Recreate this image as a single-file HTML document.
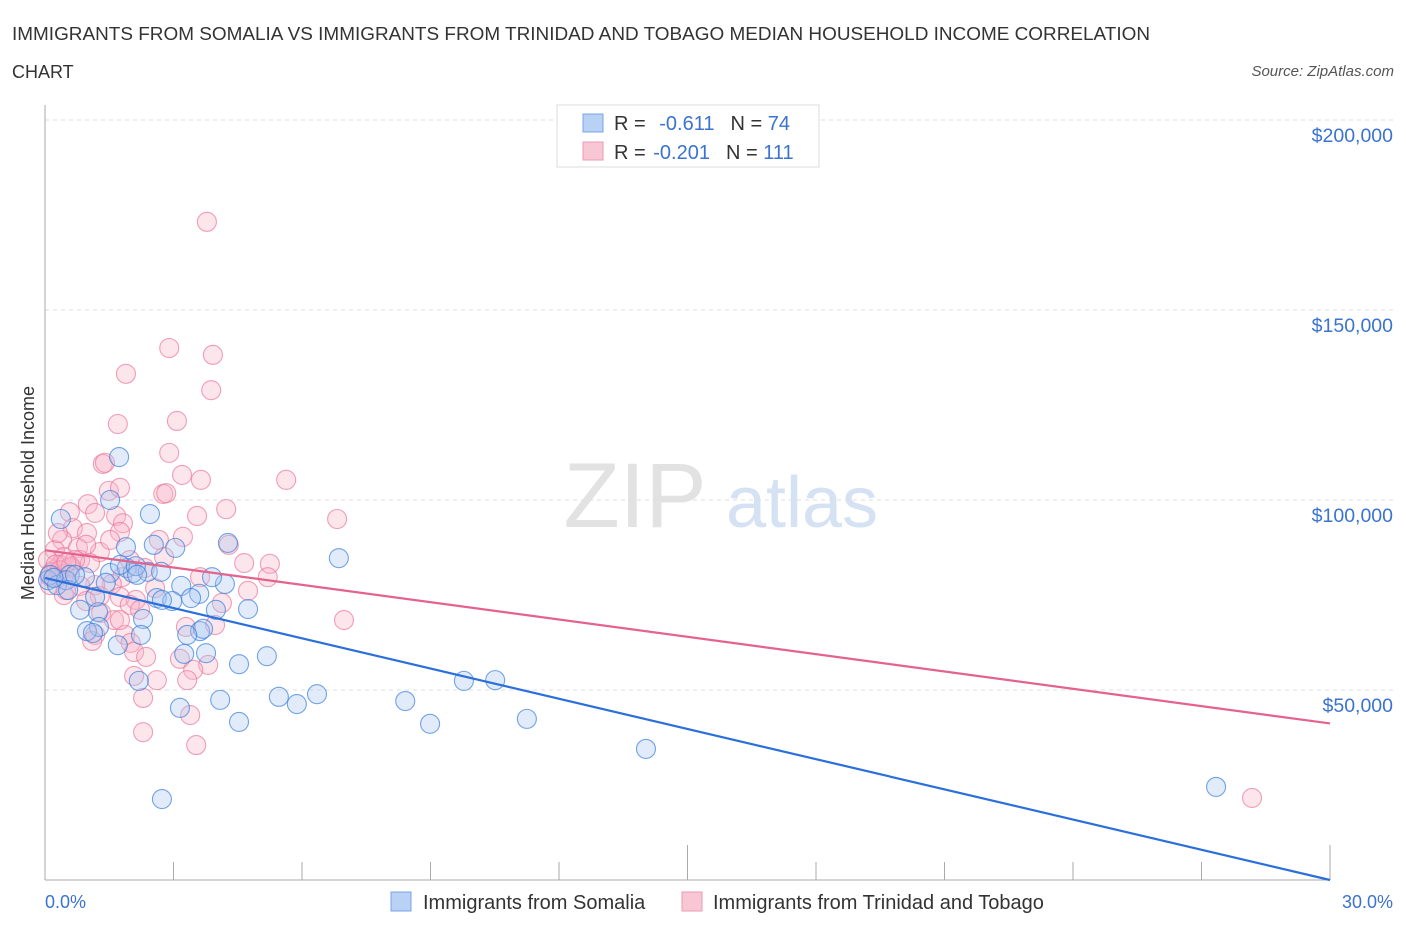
<!DOCTYPE html>
<html><head><meta charset="utf-8"><style>
body{margin:0;background:#fff;font-family:"Liberation Sans",sans-serif}
svg text{font-family:"Liberation Sans",sans-serif}
</style></head><body>
<svg id="chart" width="1406" height="930" xmlns="http://www.w3.org/2000/svg">
<text x="12" y="40" font-size="18" fill="#333" textLength="1138" lengthAdjust="spacingAndGlyphs">IMMIGRANTS FROM SOMALIA VS IMMIGRANTS FROM TRINIDAD AND TOBAGO MEDIAN HOUSEHOLD INCOME CORRELATION</text>
<text x="12" y="78" font-size="18" fill="#333">CHART</text>
<text x="1394" y="76" font-size="15" fill="#555" text-anchor="end" font-style="italic">Source: ZipAtlas.com</text>
<g>
<text x="635" y="527" font-size="92" fill="#e2e2e2" text-anchor="middle" font-family="Liberation Serif">ZIP</text>
<text x="802" y="527" font-size="72" fill="#d5e2f3" text-anchor="middle">atlas</text>
</g>
<g id="grid"></g>
<g id="axes"></g>
<g id="points"></g>
<g id="lines"></g>
<text transform="translate(34,493) rotate(-90)" font-size="18" fill="#333" text-anchor="middle">Median Household Income</text>
<text x="45" y="908" font-size="18" fill="#3a73d0">0.0%</text>
<text x="1393" y="908" font-size="18" fill="#3a73d0" text-anchor="end">30.0%</text>
<g>
<rect x="557" y="105" width="262" height="62" fill="#fff" stroke="#ddd"/>
<rect x="583" y="114" width="20" height="18" fill="#b9d1f5" stroke="#7aa4e6"/>
<rect x="583" y="142" width="20" height="18" fill="#f8c6d4" stroke="#eb9ab2"/>
<text x="614" y="130" font-size="20" fill="#333">R = <tspan fill="#3a73d0" dx="8">-0.611</tspan><tspan dx="16">N = </tspan><tspan fill="#3a73d0">74</tspan></text>
<text x="614" y="159" font-size="20" fill="#333">R = <tspan fill="#3a73d0" dx="2">-0.201</tspan><tspan dx="16">N = </tspan><tspan fill="#3a73d0">111</tspan></text>
</g>
<g>
<rect x="391" y="892" width="20" height="19" fill="#b9d1f5" stroke="#7aa4e6"/>
<text x="423" y="909" font-size="20" fill="#333">Immigrants from Somalia</text>
<rect x="682" y="892" width="20" height="19" fill="#f8c6d4" stroke="#eb9ab2"/>
<text x="713" y="909" font-size="20" fill="#333">Immigrants from Trinidad and Tobago</text>
</g>
</svg>
<script>
const yTicks=[50000,100000,150000,200000];
const yTickLabels=["$50,000","$100,000","$150,000","$200,000"];
const xTicks=[0,3,6,9,12,15,18,21,24,27,30];
const somaliaX=[2.73,0.07,0.37,1.73,1.52,2.45,1.89,2.54,3.04,4.27,6.86,0.12,0.28,0.58,0.49,0.93,1.52,1.91,2.05,2.40,1.75,2.12,2.71,3.18,3.60,4.20,3.90,2.61,2.97,3.41,0.82,1.24,3.99,4.74,2.29,1.26,0.98,1.12,3.62,3.69,2.24,3.32,1.70,3.25,3.76,4.53,5.18,2.19,3.15,4.09,4.53,5.46,5.88,6.35,8.41,8.99,9.78,10.51,11.25,14.03,27.34,0.54,1.17,0.70,1.42,2.73,2.15,0.2];
const somaliaY=[21.3,78.9,95.0,111.3,100.0,96.3,87.6,88.2,87.4,88.7,84.7,80.3,77.6,80.3,78.9,79.7,80.8,82.1,80.8,81.1,82.9,82.6,81.1,77.4,75.3,77.9,79.7,74.2,73.4,74.2,71.1,70.5,71.1,71.3,68.7,66.6,65.5,65.0,65.5,66.1,64.5,64.5,61.8,59.5,59.7,56.8,58.9,52.4,45.3,47.4,41.6,48.2,46.3,48.9,47.1,41.1,52.4,52.6,42.4,34.5,24.5,76.3,74.5,80.3,78.2,73.7,80.3,79.5];
const trinidadX=[3.78,2.90,3.92,1.89,3.88,3.08,1.70,2.90,1.35,1.40,3.20,3.64,5.63,1.49,1.75,2.76,2.83,1.00,4.23,3.55,6.82,0.58,1.17,1.66,1.82,0.65,0.98,1.75,2.66,3.22,4.29,0.40,0.23,0.77,1.28,0.44,0.82,0.21,0.35,0.58,1.05,2.78,4.65,5.25,5.20,3.62,2.33,1.80,1.56,1.17,0.82,2.57,4.74,0.44,1.28,1.75,2.12,4.13,1.98,0.96,1.31,1.61,6.98,3.29,3.97,1.17,1.87,1.10,2.00,2.08,2.36,3.15,3.81,3.46,2.08,2.61,3.32,2.29,3.39,2.29,3.53,28.18,0.07,0.30,0.12,0.49,0.70,0.96,0.30,1.52,1.98,1.75,2.22,0.15,0.25,0.45,0.6,0.1,0.35,0.5];
const trinidadY=[173.2,140.0,138.2,133.2,128.9,120.8,120.0,112.4,109.5,109.8,106.6,105.3,105.3,102.4,103.2,101.6,101.8,98.9,97.6,95.8,95.0,96.8,96.6,95.8,93.9,92.6,91.3,91.6,89.5,90.3,88.2,89.5,86.8,87.4,86.3,85.0,84.2,81.6,82.9,82.1,83.4,85.0,83.4,83.2,79.7,79.7,82.1,79.7,77.9,77.6,77.4,76.8,76.1,75.0,74.7,74.5,73.7,72.9,72.4,73.4,70.3,68.4,68.4,66.6,67.1,64.5,64.5,62.9,62.4,60.0,58.7,58.2,56.6,55.3,53.7,52.6,52.6,47.9,43.4,38.9,35.5,21.6,84.2,79.7,77.6,76.3,84.2,88.2,91.3,89.5,84.2,68.4,71.1,81.0,83.0,80.5,82.5,80.0,81.5,83.5];
const trendIntercept=[79.5,86.8];
const trendSlope=[-2.65,-1.52];
const NS="http://www.w3.org/2000/svg";
const X0=45,X1=1330,YB=880;
const sx=v=>X0+(X1-X0)*v/30;
const sy=v=>YB-v*0.0038;
function mk(tag,attrs,parent){const e=document.createElementNS(NS,tag);for(const k in attrs)e.setAttribute(k,attrs[k]);parent.appendChild(e);return e;}
const grid=document.getElementById('grid'),axes=document.getElementById('axes'),pts=document.getElementById('points'),lines=document.getElementById('lines');
yTicks.forEach((t,i)=>{
 const l=mk('line',{x1:X0,x2:1395,y1:sy(t),y2:sy(t),stroke:'#ddd','stroke-dasharray':'4,4'},grid);
 
 
 const tx=mk('text',{x:1393,y:sy(t)+22,'font-size':19.5,fill:'#3a73d0','text-anchor':'end'},grid);
 tx.textContent=yTickLabels[i];
 
 
});
const ya=mk('line',{x1:X0,x2:X0,y1:105,y2:YB,stroke:'#aaa'},axes);


const xa=mk('line',{x1:X0,x2:X1,y1:YB,y2:YB,stroke:'#aaa'},axes);


xTicks.forEach(t=>{
 const l=mk('line',{x1:sx(t),x2:sx(t),y1:YB,y2:t%15===0&&t>0?845:862,stroke:'#aaa'},axes);
 
 
});
function drawSeries(xs,ys,fill,stroke,name){
 xs.forEach((x,i)=>{
  const c=mk('circle',{cx:sx(x),cy:sy(ys[i]*1000),r:9.5,fill:fill,'fill-opacity':0.35,stroke:stroke,'stroke-opacity':0.7,'stroke-width':1.1},pts);
  
  
 });
}
drawSeries(trinidadX,trinidadY,'#f8b4c8','#e9789c','trinidad-point');
drawSeries(somaliaX,somaliaY,'#a9c7f2','#3a7fdc','somalia-point');
const colors=['#2a6fdb','#e4638c'],names=['somalia-trend-line','trinidad-trend-line'];
[0,1].forEach(i=>{
 const l=mk('line',{x1:sx(0),y1:sy(trendIntercept[i]*1000),x2:sx(30),y2:sy((trendIntercept[i]+trendSlope[i]*30)*1000),stroke:colors[i],'stroke-width':2.2},lines);
 
 
});
</script>
</body></html>
